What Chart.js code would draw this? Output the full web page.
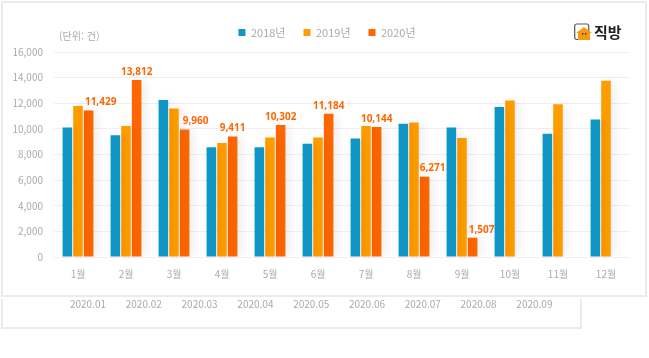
<!DOCTYPE html>
<html lang="ko">
<head>
<meta charset="utf-8">
<title>직방 월별 거래량</title>
<script src="https://cdn.jsdelivr.net/npm/chart.js@4"></script>
<style>
	html, body { margin: 0; padding: 0; background: #fff; overflow: hidden; }
	body { width: 649px; height: 358px; position: relative; font-family: "Noto Sans CJK KR", "Noto Sans", sans-serif; color: #aaa; }
	.frame { position: absolute; box-sizing: border-box; border: 2px solid #ebebeb; }
	.frame-main { left: 1px; top: 1px; width: 646px; height: 296px; }
	.frame-sub { left: 1px; top: 299px; width: 581px; height: 30px; border-top: 0; }
	#chart { position: absolute; left: 0; top: 0; }
	.unit { position: absolute; left: 59px; top: 28px; font-size: 10px; line-height: 16px; letter-spacing: 0.1px; }
	.period { position: absolute; top: 296px; font-size: 10px; line-height: 16px; width: 56px; text-align: center; }
	.logo { position: absolute; left: 574px; top: 22px; width: 50px; height: 20px; }
	.logo span { position: absolute; left: 20px; top: 0; font-size: 15px; line-height: 20px; font-weight: 700; color: #222; white-space: nowrap; }
</style>
</head>
<body>
<div class="frame frame-main"></div>
<div class="frame frame-sub"></div>
<canvas id="chart" width="649" height="358"></canvas>
<div class="unit">(단위: 건)</div>
<div class="logo">
	<svg width="18" height="19" viewBox="0 0 18 19">
		<rect x="0.7" y="2" width="14" height="15.5" rx="2" fill="#fff" stroke="#555" stroke-width="1.2"/>
		<path d="M4 18 L4 11 L2 11 L10 5 L18 11 L16 11 L16 18 Z" fill="#f59a12"/>
		<rect x="8" y="11" width="1.4" height="1.6" fill="#533"/>
		<rect x="11" y="11" width="1.4" height="1.6" fill="#533"/>
	</svg>
	<span>직방</span>
</div>
<script>
const months = ['1월','2월','3월','4월','5월','6월','7월','8월','9월','10월','11월','12월'];
const values2018 = [10100,9510,12250,8570,8570,8830,9250,10400,10100,11700,9620,10740];
const values2019 = [11780,10220,11600,8890,9330,9330,10220,10500,9280,12220,11930,13760];
const values2020 = [11429,13812,9960,9411,10302,11184,10144,6271,1507,null,null,null];
const periods = ['2020.01','2020.02','2020.03','2020.04','2020.05','2020.06','2020.07','2020.08','2020.09'];

// labels that sit off to the right of their bar in the original
const labelShift = {0: 12, 2: 11, 7: 8, 8: 9};

periods.forEach((p, i) => {
	let el = document.createElement('div');
	el.className = 'period';
	el.textContent = p;
	el.style.left = (60 + i * 55.8) + 'px';
	document.body.appendChild(el);
});

// legend sits right of the canvas centre and higher than chart.js puts it
const legendNudge = {
	id: 'legendNudge',
	afterLayout(chart) {
		chart.legend.left += 12;
		chart.legend.right += 12;
		chart.legend.top -= 4;
		chart.legend.bottom -= 4;
	}
};

const barShadow = {
	id: 'barShadow',
	beforeDatasetsDraw(chart) {
		chart.ctx.save();
		chart.ctx.shadowColor = 'rgba(0,0,0,0.07)';
		chart.ctx.shadowBlur = 8;
		chart.ctx.shadowOffsetX = 4;
	},
	afterDatasetsDraw(chart) {
		chart.ctx.restore();
	}
};

const valueLabels = {
	id: 'valueLabels',
	afterDraw(chart) {
		let ctx = chart.ctx;
		let bars = chart.getDatasetMeta(2).data;
		ctx.save();
		ctx.font = 'bold 10px "Open Sans", "Noto Sans", sans-serif';
		ctx.fillStyle = '#ff6600';
		ctx.textAlign = 'center';
		ctx.textBaseline = 'middle';
		values2020.forEach((v, i) => {
			if (v === null) return;
			ctx.fillText(v.toLocaleString('en-US'), bars[i].x + (labelShift[i] || 0), bars[i].y - 8);
		});
		ctx.restore();
	}
};

new Chart(document.getElementById('chart'), {
	type: 'bar',
	data: {
		labels: months,
		datasets: [
			{ label: '2018년', data: values2018, backgroundColor: '#0f95c6' },
			{ label: '2019년', data: values2019, backgroundColor: '#ff9c00' },
			{ label: '2020년', data: values2020, backgroundColor: '#ff6600' }
		]
	},
	options: {
		responsive: false,
		animation: false,
		barPercentage: 0.9,
		categoryPercentage: 0.665,
		layout: { padding: { top: 13, right: 19, bottom: 70, left: 0 } },
		plugins: {
			tooltip: { enabled: false },
			legend: {
				position: 'top',
				labels: {
					boxWidth: 7,
					boxHeight: 7,
					padding: 18,
					color: '#aaa',
					font: { size: 11, family: '"Noto Sans CJK KR", "Noto Sans", sans-serif' }
				}
			}
		},
		scales: {
			x: {
				grid: { display: false },
				border: { display: false },
				afterFit(scale) { scale.height = 31; },
				ticks: { color: '#aaa', padding: 3, font: { size: 10, family: '"Noto Sans CJK KR", "Noto Sans", sans-serif' } }
			},
			y: {
				min: 0,
				max: 16000,
				grid: { color: '#f4ebfa', drawTicks: false },
				border: { display: false },
				afterFit(scale) { scale.width = 54; },
				ticks: {
					stepSize: 2000,
					color: '#aaa',
					padding: 11,
					font: { size: 10, family: '"Noto Sans CJK KR", "Noto Sans", sans-serif' },
					callback: v => v.toLocaleString('en-US')
				}
			}
		}
	},
	plugins: [legendNudge, barShadow, valueLabels]
});
</script>
</body>
</html>
